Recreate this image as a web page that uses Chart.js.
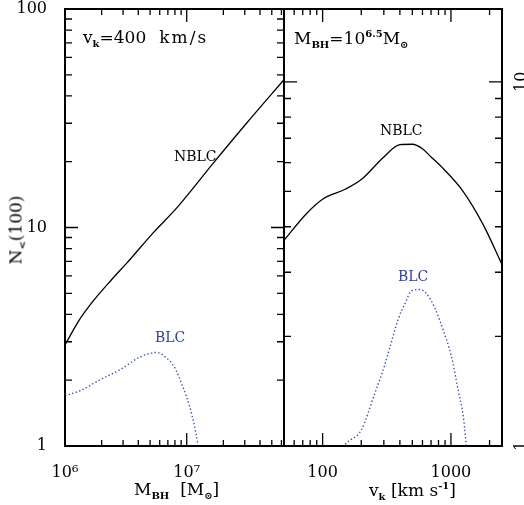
<!DOCTYPE html>
<html>
<head>
<meta charset="utf-8">
<script src="https://cdn.jsdelivr.net/npm/chart.js@4"></script>
<style>
body{margin:0;background:#fff;width:524px;height:505px;overflow:hidden;position:relative;font-family:'DejaVu Serif',serif;}
canvas{position:absolute;top:0}
.t{position:absolute;white-space:nowrap;font-size:16px;color:#000;line-height:1}
.t sub{font-size:10px;font-weight:bold;vertical-align:-4px}
.t sup{font-size:10px;font-weight:bold;vertical-align:7px}
.blue{color:#2b3ea6}
</style>
</head>
<body>
<canvas id="left" width="285" height="505" style="left:0"></canvas>
<canvas id="right" width="240" height="505" style="left:284px"></canvas>

<div class="t" style="left:83px;top:29px;font-size:17px">v<sub>k</sub>=400<span style="margin-left:13px;letter-spacing:2px">km/s</span></div>
<div class="t" style="left:294px;top:29px;font-size:17px">M<sub>BH</sub>=10<sup>6.5</sup>M<sub>⊙</sub></div>
<div class="t" style="left:174px;top:149px;font-size:14px">NBLC</div>
<div class="t blue" style="left:155px;top:330px;font-size:14px">BLC</div>
<div class="t" style="left:380px;top:123px;font-size:14px">NBLC</div>
<div class="t blue" style="left:398px;top:269px;font-size:14px">BLC</div>
<div class="t" style="left:134px;top:481px;font-size:17px">M<sub>BH</sub>&nbsp; [M<sub>⊙</sub>]</div>
<div class="t" style="left:369px;top:481px;font-size:17px">v<sub>k</sub> [km s<sup>-1</sup>]</div>
<div class="t" style="left:-17px;top:220px;font-size:17px;transform:rotate(-90deg);transform-origin:center">N<sub>&lt;</sub>(100)</div>

<script>
// left panel: N(100) against black hole mass, vk = 400 km/s
const massNBLC = [1.0e6, 1.3e6, 1.7e6, 2.4e6, 3.2e6, 5.3e6, 8.5e6, 1.64e7, 3.1e7, 6.3e7];
const nblcMass = [2.9, 3.75, 4.6, 5.75, 6.85, 9.45, 12.5, 19.6, 30.0, 47.5];
const massBLC = [1.0e6, 1.33e6, 1.94e6, 2.82e6, 4.12e6, 5.65e6, 6.82e6, 7.98e6, 9.27e6, 1.06e7, 1.16e7, 1.23e7, 1.27e7];
const blcMass = [1.70, 1.79, 2.01, 2.23, 2.55, 2.68, 2.53, 2.28, 1.87, 1.51, 1.23, 1.03, 0.9];

// right panel: N(100) against kick velocity, M_BH = 10^6.5
const kickNBLC = [50, 75, 100, 150, 200, 300, 400, 500, 600, 700, 870, 1250, 1800, 2500];
const nblcKick = [3.67, 4.35, 4.76, 5.07, 5.39, 6.22, 6.72, 6.74, 6.55, 6.22, 5.78, 4.99, 4.03, 3.15];
const kickBLC = [140, 150, 200, 255, 300, 335, 390, 440, 495, 575, 645, 750, 870, 1010, 1140, 1250, 1310, 1340];
const blcKick = [0.97, 1.01, 1.106, 1.395, 1.64, 1.87, 2.24, 2.47, 2.67, 2.69, 2.62, 2.39, 2.08, 1.76, 1.42, 1.20, 1.02, 0.93];

// ticks
const massTicks = [1e6, 1e7];
const massTickLabels = ['10⁶', '10⁷'];
const massMinor = [2e6, 3e6, 4e6, 5e6, 6e6, 7e6, 8e6, 9e6, 2e7, 3e7, 4e7, 5e7, 6e7];
const nTicks = [1, 10, 100];
const nTickLabels = ['1', '10', '100'];
const nMinor = [2, 3, 4, 5, 6, 7, 8, 9, 20, 30, 40, 50, 60, 70, 80, 90];
const kickTicks = [100, 1000];
const kickTickLabels = ['100', '1000'];
const kickMinor = [60, 70, 80, 90, 200, 300, 400, 500, 600, 700, 800, 900, 2000];
const nRightTicks = [1, 10];
const nRightLabels = ['1', '10'];
const nRightMinor = [2, 3, 4, 5, 6, 7, 8, 9];

const pts = (xs, ys) => xs.map((x, i) => ({x: x, y: ys[i]}));
const FONT = {family: 'DejaVu Serif', size: 16};

// box with inward ticks on all four sides
const frame = {
  id: 'frame',
  afterDraw(chart, args, o) {
    const {ctx, chartArea: a} = chart;
    const x = chart.scales.x, y = chart.scales.y;
    ctx.save();
    ctx.strokeStyle = '#000';
    ctx.lineWidth = 1.3;
    ctx.beginPath();
    const xt = (vals, len) => vals.forEach(v => {
      const p = x.getPixelForValue(v);
      ctx.moveTo(p, a.bottom); ctx.lineTo(p, a.bottom - len);
      ctx.moveTo(p, a.top); ctx.lineTo(p, a.top + len);
    });
    const yt = (vals, len) => vals.forEach(v => {
      const p = y.getPixelForValue(v);
      ctx.moveTo(a.left, p); ctx.lineTo(a.left + len, p);
      ctx.moveTo(a.right, p); ctx.lineTo(a.right - len, p);
    });
    xt(o.xMajor, 13); xt(o.xMinor, 6);
    yt(o.yMajor, 13); yt(o.yMinor, 7);
    ctx.stroke();
    ctx.lineWidth = 2;
    ctx.strokeRect(a.left, a.top, a.width, a.height);
    if (o.rightLabels) {
      ctx.fillStyle = '#000';
      ctx.font = '16px "DejaVu Serif"';
      ctx.textAlign = 'center';
      ctx.textBaseline = 'middle';
      o.yMajor.forEach((v, i) => {
        ctx.save();
        ctx.translate(a.right + 20, y.getPixelForValue(v));
        ctx.rotate(-Math.PI / 2);
        ctx.fillText(o.rightLabels[i], 0, 0);
        ctx.restore();
      });
    }
    ctx.restore();
  }
};

const solid = {borderColor: '#000', borderWidth: 1.3, pointRadius: 0, cubicInterpolationMode: 'monotone', fill: false};
const dotted = {borderColor: '#3a50c0', borderWidth: 1.4, borderDash: [1.4, 2.3], pointRadius: 0, cubicInterpolationMode: 'monotone', fill: false};
const noPad = s => { s.paddingTop = 0; s.paddingBottom = 0; };

new Chart(document.getElementById('left'), {
  type: 'line',
  data: {
    datasets: [
      Object.assign({label: 'NBLC', data: pts(massNBLC, nblcMass)}, solid),
      Object.assign({label: 'BLC', data: pts(massBLC, blcMass)}, dotted)
    ]
  },
  options: {
    responsive: false,
    animation: false,
    layout: {padding: {top: 9, right: 1}},
    plugins: {
      legend: {display: false},
      tooltip: {enabled: false},
      frame: {xMajor: massTicks, xMinor: massMinor, yMajor: nTicks, yMinor: nMinor}
    },
    scales: {
      x: {
        type: 'logarithmic', min: 1e6, max: 6.3e7,
        grid: {display: false}, border: {display: false},
        afterBuildTicks: s => { s.ticks = massTicks.map(v => ({value: v})); },
        afterFit: s => { s.height = 59; },
        ticks: {font: FONT, color: '#000', padding: 9, autoSkip: false, maxRotation: 0,
          callback: (v, i) => massTickLabels[i]}
      },
      y: {
        type: 'logarithmic', min: 1, max: 100,
        grid: {display: false}, border: {display: false},
        afterBuildTicks: s => { s.ticks = nTicks.map(v => ({value: v})); },
        afterFit: s => { s.width = 65; noPad(s); },
        ticks: {font: FONT, color: '#000', padding: 10, autoSkip: false,
          callback: (v, i) => nTickLabels[i]}
      }
    }
  },
  plugins: [frame]
});

new Chart(document.getElementById('right'), {
  type: 'line',
  data: {
    datasets: [
      Object.assign({label: 'NBLC', data: pts(kickNBLC, nblcKick)}, solid),
      Object.assign({label: 'BLC', data: pts(kickBLC, blcKick)}, dotted)
    ]
  },
  options: {
    responsive: false,
    animation: false,
    layout: {padding: {top: 9}},
    plugins: {
      legend: {display: false},
      tooltip: {enabled: false},
      frame: {xMajor: kickTicks, xMinor: kickMinor, yMajor: nRightTicks, yMinor: nRightMinor, rightLabels: nRightLabels}
    },
    scales: {
      x: {
        type: 'logarithmic', min: 50, max: 2500,
        grid: {display: false}, border: {display: false},
        afterBuildTicks: s => { s.ticks = kickTicks.map(v => ({value: v})); },
        afterFit: s => { s.height = 59; },
        ticks: {font: FONT, color: '#000', padding: 9, autoSkip: false, maxRotation: 0,
          callback: (v, i) => kickTickLabels[i]}
      },
      y: {
        type: 'logarithmic', position: 'right', min: 1, max: 15.85,
        grid: {display: false}, border: {display: false},
        afterFit: s => { s.width = 22; noPad(s); },
        ticks: {display: false}
      }
    }
  },
  plugins: [frame]
});
</script>
</body>
</html>
